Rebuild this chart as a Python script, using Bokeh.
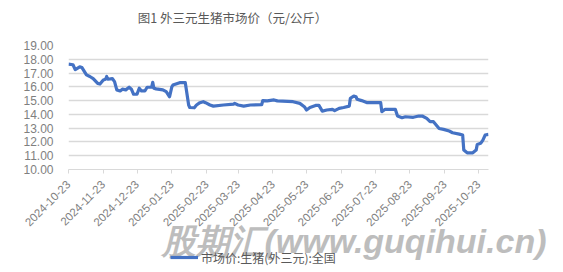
import datetime as dt
from math import pi
from bokeh.plotting import figure
from bokeh.layouts import column
from bokeh.models import (Range1d, FixedTicker, DatetimeTickFormatter, Label,
                          Legend, LegendItem, ColumnDataSource, NumeralTickFormatter)
from bokeh.embed import file_html
from bokeh.resources import INLINE

# ---------------- data ----------------
dates = [
    "2024-10-23", "2024-10-27", "2024-10-29", "2024-11-02", "2024-11-04", "2024-11-08",
    "2024-11-11", "2024-11-14", "2024-11-18", "2024-11-20", "2024-11-23", "2024-11-25",
    "2024-11-26", "2024-11-27", "2024-12-01", "2024-12-03", "2024-12-05", "2024-12-08",
    "2024-12-10", "2024-12-13", "2024-12-16", "2024-12-18", "2024-12-20", "2024-12-23",
    "2024-12-25", "2024-12-27", "2024-12-30", "2025-01-01", "2025-01-05", "2025-01-06",
    "2025-01-07", "2025-01-09", "2025-01-15", "2025-01-18", "2025-01-21", "2025-01-23",
    "2025-01-24", "2025-01-30", "2025-02-04", "2025-02-07", "2025-02-08", "2025-02-12",
    "2025-02-14", "2025-02-17", "2025-02-20", "2025-02-22", "2025-02-26", "2025-03-01",
    "2025-03-10", "2025-03-19", "2025-03-20", "2025-03-23", "2025-03-28", "2025-04-03",
    "2025-04-13", "2025-04-14", "2025-04-18", "2025-04-24", "2025-04-27", "2025-05-11",
    "2025-05-17", "2025-05-21", "2025-05-23", "2025-05-26", "2025-05-31", "2025-06-03",
    "2025-06-06", "2025-06-10", "2025-06-15", "2025-06-17", "2025-06-21", "2025-06-25",
    "2025-06-30", "2025-07-01", "2025-07-04", "2025-07-06", "2025-07-07", "2025-07-11",
    "2025-07-16", "2025-07-28", "2025-07-29", "2025-08-01", "2025-08-10", "2025-08-12",
    "2025-08-16", "2025-08-19", "2025-08-26", "2025-08-31", "2025-09-03", "2025-09-07",
    "2025-09-10", "2025-09-13", "2025-09-18", "2025-09-22", "2025-09-27", "2025-09-30",
    "2025-10-06", "2025-10-09", "2025-10-10", "2025-10-13", "2025-10-18", "2025-10-21",
    "2025-10-22", "2025-10-25", "2025-10-27", "2025-10-29", "2025-11-01",
]
prices = [
    17.65, 17.60, 17.25, 17.45, 17.40, 16.87,
    16.75, 16.60, 16.25, 16.20, 16.50, 16.55,
    16.75, 16.55, 16.60, 16.38, 15.78, 15.70,
    15.83, 15.78, 15.97, 15.83, 15.46, 15.46,
    15.90, 15.70, 15.70, 15.97, 15.97, 16.33,
    15.90, 15.85, 15.78, 15.65, 15.28, 16.00,
    16.13, 16.30, 16.30, 14.68, 14.50, 14.48,
    14.68, 14.85, 14.92, 14.85, 14.68, 14.60,
    14.68, 14.75, 14.80, 14.68, 14.60, 14.68,
    14.70, 15.00, 14.98, 15.05, 14.98, 14.92,
    14.80, 14.56, 14.32, 14.50, 14.65, 14.65,
    14.24, 14.32, 14.37, 14.27, 14.44, 14.50,
    14.60, 15.17, 15.33, 15.28, 15.10, 15.00,
    14.85, 14.85, 14.20, 14.37, 14.37, 13.88,
    13.76, 13.83, 13.79, 13.88, 13.88, 13.71,
    13.47, 13.47, 12.98, 12.91, 12.79, 12.67,
    12.57, 12.50, 11.41, 11.21, 11.21, 11.41,
    11.82, 11.90, 12.13, 12.50, 12.55,
]
tick_dates = [
    "2024-10-23", "2024-11-23", "2024-12-23", "2025-01-23", "2025-02-23", "2025-03-23",
    "2025-04-23", "2025-05-23", "2025-06-23", "2025-07-23", "2025-08-23", "2025-09-23",
    "2025-10-23",
]
y_ticks = [10, 11, 12, 13, 14, 15, 16, 17, 18, 19]
x_start, x_end = "2024-10-23", "2025-11-01"
title_text = "图1 外三元生猪市场价（元/公斤）"
series_name = "市场价:生猪(外三元):全国"
watermark_text = "股期汇(www.guqihui.cn)"

# ---------------- helpers ----------------
EPOCH = dt.datetime(1970, 1, 1)
def to_dt(s):
    return dt.datetime.strptime(s, "%Y-%m-%d")
def to_ms(s):
    return (to_dt(s) - EPOCH).total_seconds() * 1000.0

LINE_COLOR = "#4472C4"
GRID_COLOR = "#d9d9d9"
LABEL_COLOR = "#7f7f7f"
TEXT_COLOR = "#595959"
CJK = "Noto Sans CJK SC"
LATIN = "Liberation Sans"
W = 563
T_H = 30                      # title strip
FRAME_TOP, FRAME_H, BB = 15, 124, 66
P_H = FRAME_TOP + FRAME_H + BB  # main chart
Q_H = 52                      # watermark + legend strip
OVERLAP = T_H + P_H + Q_H - 272

source = ColumnDataSource(data=dict(x=[to_dt(d) for d in dates], y=prices))
xr = Range1d(to_dt(x_start), to_dt(x_end))

def strip(h):
    f = figure(width=W, height=h, output_backend="svg", toolbar_location=None,
               x_axis_type="datetime", x_range=xr, y_range=Range1d(100, 101),
               x_axis_location=None, y_axis_location=None,
               min_border_left=0, min_border_right=0, min_border_top=0,
               min_border_bottom=0)
    f.frame_align = False
    f.outline_line_color = None
    f.grid.visible = False
    f.background_fill_color = None
    f.border_fill_color = None
    return f

# ---------------- title strip ----------------
t = strip(T_H)
t.add_layout(Label(x=232, y=T_H - 17, x_units="screen", y_units="screen",
                   text=title_text, text_font=CJK, text_font_size="12.5px",
                   text_color=TEXT_COLOR, text_align="center", text_baseline="middle"))

# ---------------- main chart ----------------
p = figure(width=W, height=P_H, output_backend="svg", toolbar_location=None,
           x_axis_type="datetime", x_range=xr,
           y_range=Range1d(min(y_ticks), max(y_ticks)),
           min_border_left=68, min_border_right=75,
           min_border_top=FRAME_TOP, min_border_bottom=BB)
p.frame_align = False
p.outline_line_color = None
p.background_fill_color = "white"
p.border_fill_color = "white"

p.yaxis.ticker = FixedTicker(ticks=y_ticks)
p.yaxis.formatter = NumeralTickFormatter(format="0.00")
p.yaxis.axis_line_color = None
p.yaxis.major_tick_line_color = None
p.yaxis.minor_tick_line_color = None
p.yaxis.major_label_text_font = LATIN
p.yaxis.major_label_text_font_size = "12px"
p.yaxis.major_label_text_color = LABEL_COLOR
p.yaxis.major_label_standoff = 9

p.xaxis.ticker = FixedTicker(ticks=[to_ms(tk) for tk in tick_dates])
fmt = "%Y-%m-%d"
p.xaxis.formatter = DatetimeTickFormatter(days=fmt, months=fmt, years=fmt, hours=fmt,
                                          hourmin=fmt, minutes=fmt, seconds=fmt,
                                          minsec=fmt, milliseconds=fmt, microseconds=fmt)
p.xaxis.major_label_orientation = pi / 4
p.xaxis.axis_line_color = GRID_COLOR
p.xaxis.major_tick_line_color = GRID_COLOR
p.xaxis.major_tick_in = 0
p.xaxis.major_tick_out = 4
p.xaxis.minor_tick_line_color = None
p.xaxis.major_label_text_font = LATIN
p.xaxis.major_label_text_font_size = "11.5px"
p.xaxis.major_label_text_color = LABEL_COLOR
p.xaxis.major_label_standoff = 9

p.xgrid.grid_line_color = None
p.ygrid.grid_line_color = GRID_COLOR
p.ygrid.grid_line_width = 1.5

p.line("x", "y", source=source, line_color=LINE_COLOR, line_width=3.2, line_join="round")

# ---------------- bottom strip: watermark + legend ----------------
q = strip(Q_H)
q.margin = (-OVERLAP, 0, 0, 0)
q.add_layout(Label(x=354, y=Q_H - 20, x_units="screen", y_units="screen",
                   text=watermark_text, text_font=LATIN, text_font_size="34px",
                   text_font_style="bold italic", text_color="#bdbdbd",
                   text_align="center", text_baseline="middle"))

# same series in the legend strip (its values fall outside this strip's range)
r2 = q.line("x", "y", source=source, line_color=LINE_COLOR, line_width=3.2)
legend = Legend(items=[LegendItem(label=series_name, renderers=[r2])],
                location=(170, 5), orientation="horizontal",
                padding=0, margin=0, spacing=0,
                glyph_width=28, glyph_height=20, label_height=20, label_standoff=3,
                label_text_font=CJK, label_text_font_size="12px",
                label_text_color=TEXT_COLOR,
                background_fill_alpha=0, border_line_alpha=0)
q.add_layout(legend)

layout = column(t, p, q, spacing=0)
open("out.html", "w").write(file_html(layout, INLINE))
